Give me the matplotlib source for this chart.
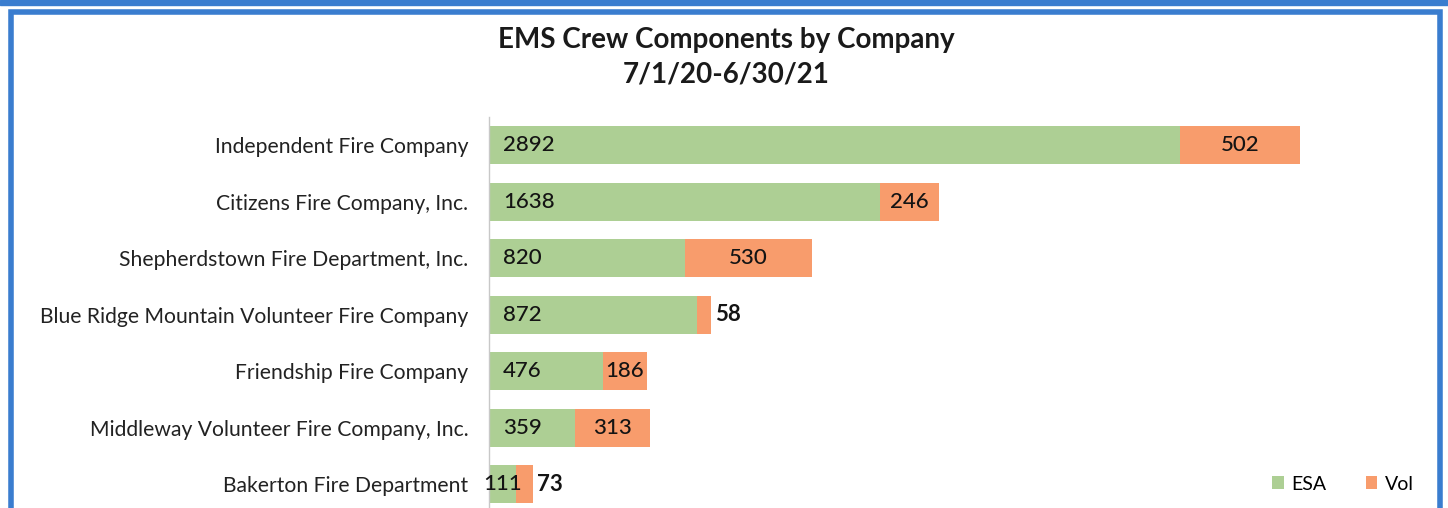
import matplotlib.pyplot as plt
from matplotlib.patches import Rectangle
import numpy as np

# --- Data ---
companies = [
    'Independent Fire Company',
    'Citizens Fire Company, Inc.',
    'Shepherdstown Fire Department, Inc.',
    'Blue Ridge Mountain Volunteer Fire Company',
    'Friendship Fire Company',
    'Middleway Volunteer Fire Company, Inc.',
    'Bakerton Fire Department',
]
esa = [2892, 1638, 820, 872, 476, 359, 111]
vol = [502, 246, 530, 58, 186, 313, 73]

TITLE = 'EMS Crew Components by Company\n7/1/20-6/30/21'
GREEN = '#ADCF94'
ORANGE = '#F89C6C'
BLUE = '#3A7DCF'
# -----------------

plt.rcParams['font.family'] = ['Lato', 'DejaVu Sans']

W, H = 1448, 508
fig = plt.figure(figsize=(W / 100, H / 100), dpi=100)

# scanned frame: top band + inner border
fig.patches.append(Rectangle((0, 1 - 5 / H), 1, 5 / H, transform=fig.transFigure,
                             color=BLUE, zorder=0))
fig.patches.append(Rectangle((10.5 / W, -0.1), (1429) / W, 1 - 12.5 / H + 0.1,
                             transform=fig.transFigure, fill=False,
                             edgecolor=BLUE, linewidth=4, zorder=0))

# axes placed in pixel terms
ax_left, ax_right = 489, 1420
ax_top, ax_bot = 117, 512.5
ax = fig.add_axes([ax_left / W, 1 - ax_bot / H, (ax_right - ax_left) / W,
                   (ax_bot - ax_top) / H])
px_per_unit = 811 / 3394
ax.set_xlim(0, (ax_right - ax_left) / px_per_unit)

y = np.arange(len(companies))
ax.barh(y, esa, height=0.68, color=GREEN, label='ESA')
ax.barh(y, vol, left=esa, height=0.68, color=ORANGE, label='Vol')
ax.set_ylim(len(companies) - 0.5, -0.5)

ax.set_yticks(y)
ax.set_yticklabels(companies, fontsize=15.2, color='#222222')
ax.tick_params(axis='y', length=0, pad=15)
ax.set_xticks([])
for s in ['top', 'right', 'bottom']:
    ax.spines[s].set_visible(False)
ax.spines['left'].set_color('#C8C8C8')
ax.spines['left'].set_linewidth(1)

pad = 14 / px_per_unit
lbl = dict(va='center', fontsize=16, color='#141414', fontweight='medium')
for i in range(len(companies)):
    # ESA label at base of bar
    if esa[i] > 300:
        ax.text(pad, i, str(esa[i]), ha='left', **lbl)
    else:
        ax.text(esa[i] / 2, i, str(esa[i]), ha='center', **lbl)
    # Vol label centred, or outside if too thin
    if vol[i] > 150:
        ax.text(esa[i] + vol[i] / 2, i, str(vol[i]), ha='center', **lbl)
    else:
        ax.text(esa[i] + vol[i] + 4 / px_per_unit, i, str(vol[i]), ha='left',
                va='center', fontsize=16, color='#141414', fontweight='bold')

fig.text(726 / W, 1 - 57 / H, TITLE, ha='center', va='center', fontsize=20,
         fontweight='bold', color='#1a1a1a', linespacing=1.4)

fig.legend(loc='center', bbox_to_anchor=(1343 / W, 1 - 484 / H), ncol=2,
           frameon=False, fontsize=14, handlelength=0.6, handleheight=0.6,
           handletextpad=0.4, columnspacing=2.0)

plt.savefig('out.png', dpi=100)
